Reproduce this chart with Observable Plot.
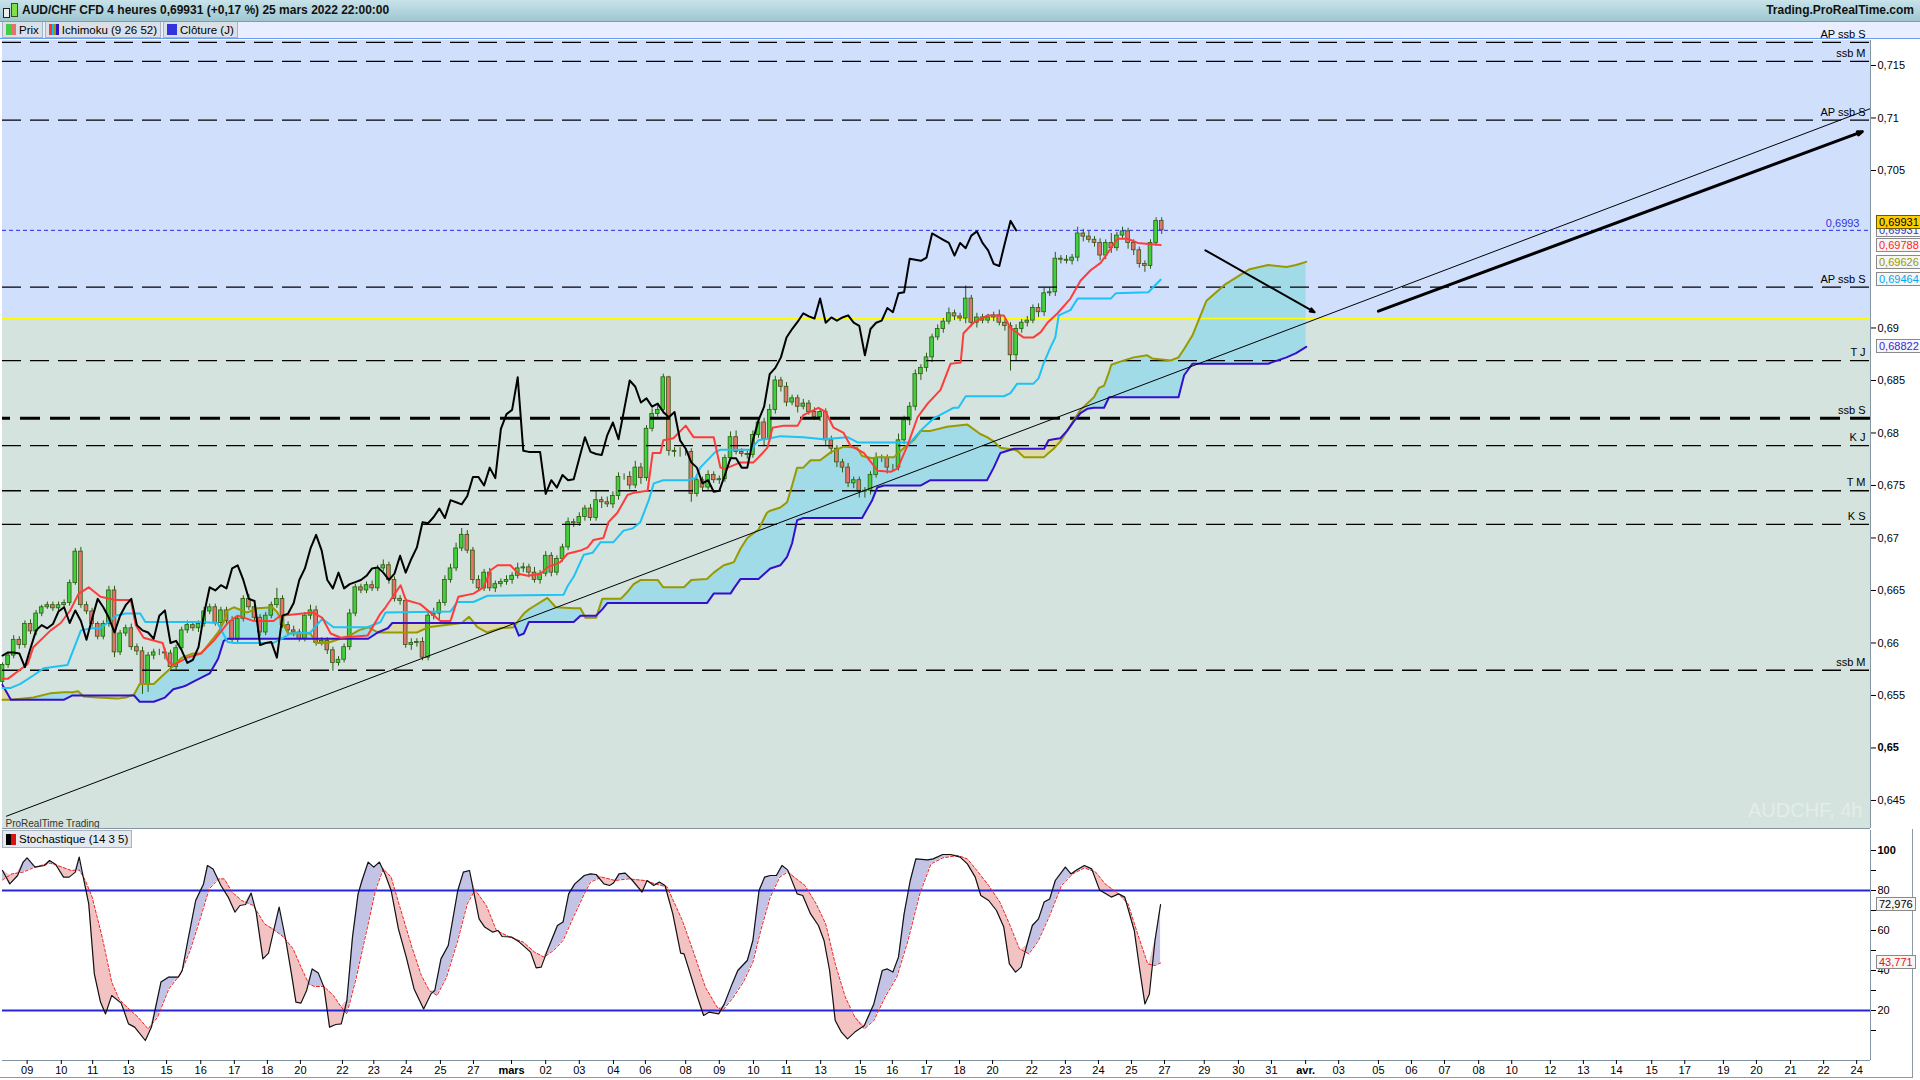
<!DOCTYPE html>
<html>
<head>
<meta charset="utf-8">
<script src="https://cdn.jsdelivr.net/npm/d3@7"></script>
<script src="https://cdn.jsdelivr.net/npm/@observablehq/plot@0.6"></script>
<style>
  body { margin: 0; width: 1920px; height: 1080px; overflow: hidden; background: #fff; position: relative;
         font-family: "Liberation Sans", Arial, sans-serif; color: #000; }
  #head { position: absolute; left: 0; top: 0; width: 1920px; height: 21px; line-height: 21px;
          background: linear-gradient(#c8e3ea, #9fc6d0); border-bottom: 1px solid #7d9ea8;
          font-size: 12px; font-weight: bold; color: #111; }
  #head .title { position: absolute; left: 22px; }
  #head .site { position: absolute; right: 6px; }
  #head .ico { position: absolute; top: 3px; width: 5px; border: 1px solid #222; }
  #legend { position: absolute; left: 0; top: 22px; width: 1920px; height: 17px; background: #e8eeff;
            border-bottom: 1px solid #6d9cf0; display: flex; gap: 2px; padding-left: 2px; box-sizing: border-box; }
  .btn { height: 16px; line-height: 16px; font-size: 11.5px; background: #d9e0e8; border: 1px solid #a9b4bf;
         border-top: none; padding: 0 3px; display: flex; align-items: center; gap: 3px; box-sizing: border-box; }
  .sw { display: inline-block; height: 11px; }
  #main { position: absolute; left: 0; top: 40px; }
  #stoch { position: absolute; left: 0; top: 830px; }
  #stochLeg { position: absolute; left: 2px; top: 830px; height: 16px; line-height: 16px; font-size: 11.5px;
              background: #e4e9ef; border: 1px solid #a9b4bf; padding: 0 3px; display: flex; gap: 3px; align-items: center; }
  #paneBorder { position: absolute; left: 0; top: 829px; width: 1912px; height: 248px; border-right: 1px solid #8b9aa6;
                border-bottom: 1px solid #8b9aa6; pointer-events: none; }
  .vbox { position: absolute; left: 1876px; height: 12px; line-height: 12px; font-size: 11px; padding: 0 2px;
          border: 1px solid #8a8a8a; background: #f6f6f6; white-space: nowrap; }
</style>
</head>
<body>
<div id="head">
  <span class="ico" style="left:3px;height:8px;top:8px;background:#eee"></span>
  <span class="ico" style="left:11px;height:12px;background:#7fe04a;border-color:#2d5a12"></span>
  <span class="title">AUD/CHF CFD 4 heures 0,69931 (+0,17 %) 25 mars 2022 22:00:00</span>
  <span class="site">Trading.ProRealTime.com</span>
</div>
<div id="legend">
  <div class="btn"><span class="sw" style="width:5px;background:#44cc44"></span><span class="sw" style="width:5px;margin-left:-3px;background:#e5726b"></span>Prix</div>
  <div class="btn"><span class="sw" style="width:10px;background:linear-gradient(90deg,#ff3333 25%,#00bfff 25% 50%,#999900 50% 75%,#3311cc 75%)"></span>Ichimoku (9 26 52)</div>
  <div class="btn"><span class="sw" style="width:10px;background:#3333dd"></span>Clôture (J)</div>
</div>
<div id="main"></div>
<div id="paneBorder"></div>
<div id="stoch"></div>
<div id="stochLeg"><span class="sw" style="width:5px;background:#000"></span><span class="sw" style="width:5px;margin-left:-3px;background:#dd1111"></span>Stochastique (14 3 5)</div>

<script>
// ---- data (x = 4h bar index, 0 = first visible bar) ----

// closes of each 4h bar
const closes = [
  0.6579,0.6588,0.6603,0.6598,0.6618,0.6611,0.6628,0.6634,0.6636,0.6633,
  0.6636,0.6638,0.6657,0.6687,0.6636,0.6630,0.6618,0.6606,0.6618,0.6650,
  0.6591,0.6609,0.6614,0.6596,0.6592,0.6561,0.6588,0.6591,0.6591,0.6590,
  0.6577,0.6595,0.6612,0.6617,0.6614,0.6618,0.6630,0.6634,0.6619,0.6631,
  0.6621,0.6603,0.6623,0.6642,0.6634,0.6624,0.6610,0.6626,0.6636,0.6642,
  0.6617,0.6612,0.6610,0.6604,0.6626,0.6631,0.6600,0.6602,0.6593,0.6581,
  0.6584,0.6596,0.6628,0.6653,0.6650,0.6655,0.6652,0.6671,0.6674,0.6660,
  0.6642,0.6640,0.6598,0.6600,0.6601,0.6586,0.6626,0.6628,0.6638,0.6660,
  0.6671,0.6690,0.6703,0.6688,0.6660,0.6652,0.6667,0.6652,0.6656,0.6658,
  0.6660,0.6664,0.6671,0.6672,0.6667,0.6660,0.6666,0.6683,0.6667,0.6680,
  0.6691,0.6715,0.6714,0.6720,0.6728,0.6719,0.6736,0.6734,0.6732,0.6740,
  0.6758,0.6758,0.6750,0.6767,0.6757,0.6804,0.6818,0.6822,0.6853,0.6783,
  0.6782,0.6782,0.6782,0.6742,0.6755,0.6748,0.6760,0.6755,0.6756,0.6776,
  0.6796,0.6782,0.6780,0.6779,0.6798,0.6810,0.6794,0.6822,0.6850,0.6844,
  0.6829,0.6833,0.6825,0.6828,0.6820,0.6815,0.6820,0.6793,0.6785,0.6772,
  0.6767,0.6752,0.6755,0.6744,0.6745,0.6760,0.6776,0.6776,0.6767,0.6767,
  0.6793,0.6812,0.6825,0.6856,0.6862,0.6872,0.6891,0.6899,0.6906,0.6914,
  0.6911,0.6909,0.6928,0.6905,0.6910,0.6907,0.6910,0.6912,0.6905,0.6902,
  0.6874,0.6899,0.6905,0.6907,0.6919,0.6915,0.6933,0.6934,0.6966,0.6965,
  0.6964,0.6967,0.6990,0.6987,0.6984,0.6981,0.6969,0.6981,0.6976,0.6988,
  0.6992,0.6981,0.6974,0.6961,0.6959,0.6981,0.7002,0.6993
];
const firstOpen = 0.6563;
// wick length above / below the body, in pips
const wickUp = [
  2,3,4,3,3,4,3,2,3,3, 3,3,3,3,4,3,3,2,3,4, 4,3,3,4,3,4,3,3,3,4, 3,3,3,4,3,3,4,3,3,3,
  3,4,3,3,4,3,3,3,3,10, 3,3,4,3,3,5,4,3,3,3, 3,3,4,3,3,3,4,3,5,3, 3,3,3,4,3,4,3,5,3,4,
  4,5,6,4,3,4,3,4,3,3, 4,3,5,4,3,5,3,4,3,3, 3,4,3,4,3,4,8,3,5,4, 4,3,5,6,4,3,5,6,3,1,
  3,4,3,3,3,3,4,3,3,3, 5,6,3,3,4,3,4,5,4,3, 4,3,3,4,3,4,3,3,4,3, 3,4,3,3,3,3,5,3,3,3,
  6,4,4,4,3,4,3,4,3,5, 3,3,12,3,4,3,3,3,5,3, 3,4,3,4,3,4,5,4,6,3, 4,3,6,4,5,3,4,3,9,3,
  4,3,3,3,3,3,3,3
];
const wickDown = [
  5,3,3,4,3,3,4,3,2,3, 4,3,3,2,3,3,3,3,3,3, 5,3,3,3,4,10,8,4,3,6, 4,3,3,3,3,4,3,3,3,4,
  3,3,3,3,3,3,4,3,3,3, 3,3,4,3,3,4,3,3,4,8, 3,3,3,3,3,3,3,3,3,4, 3,4,3,5,4,3,3,4,6,3,
  3,3,3,3,4,3,3,3,4,3, 3,4,3,4,5,3,4,3,4,3, 3,3,4,3,4,3,3,6,3,4, 4,3,4,3,6,3,3,3,4,5,
  5,5,4,8,3,4,3,3,4,3, 3,3,3,4,3,3,6,3,4,5, 4,3,6,3,3,3,4,6,5,5, 5,4,5,6,6,4,3,4,6,3,
  3,4,5,4,6,4,5,3,4,3, 4,3,5,4,5,3,3,4,3,5, 15,5,4,4,3,5,4,3,4,4, 3,4,4,5,3,4,5,4,5,3,
  4,6,5,4,6,3,3,4
];
const chikouShift = 26;

// Tenkan (9) and Kijun (26): [bar, price]
const tenkan = [
  [0,0.6566],[1,0.6566],[4.5,0.6580],[5.5,0.6596],[8.6,0.6612],[10.4,0.6619],[12.1,0.6631],[13.6,0.6647],
  [15.4,0.6653],[17.5,0.6644],[20.2,0.6641],[22.9,0.6641],[23.8,0.6617],[25.2,0.6605],[28.6,0.6600],[29.5,0.6583],
  [30.5,0.6579],[33,0.6586],[35.4,0.6590],[37.7,0.6602],[40.2,0.6619],[42,0.6626],[44.8,0.6621],[48.4,0.6621],
  [49.6,0.6626],[55.5,0.6629],[57.1,0.6624],[58.6,0.6609],[60.4,0.6605],[65.2,0.6607],[67.5,0.6628],[68.4,0.6634],
  [71.1,0.6655],[72,0.6641],[74.6,0.6637],[78.2,0.6621],[80,0.6621],[81.4,0.6644],[84.1,0.6647],[85.9,0.6653],
  [87.1,0.6669],[88.4,0.6674],[90.7,0.6674],[92.1,0.6666],[93.8,0.6664],[96.1,0.6666],[97.3,0.6672],[99.6,0.6677],
  [100.9,0.6685],[103.2,0.6688],[104.5,0.6691],[105.5,0.6698],[107.3,0.6700],[108.2,0.6715],[109.8,0.6724],
  [111.6,0.6741],[112.7,0.6743],[115.2,0.6745],[116.1,0.6781],[117.5,0.6781],[118,0.6793],[119.8,0.6795],
  [122,0.6807],[123.4,0.6796],[127,0.6796],[128.2,0.6767],[129.1,0.6766],[131.8,0.6772],[134.1,0.6772],
  [135.4,0.6779],[136.6,0.6786],[137.5,0.6805],[139.5,0.6807],[142,0.6807],[143,0.6817],[145.7,0.6824],
  [147,0.6820],[148.4,0.6805],[150.2,0.6800],[151.4,0.6788],[153.8,0.6781],[156.3,0.6764],[158.6,0.6763],
  [159.8,0.6766],[161.6,0.6788],[163.4,0.6815],[165.2,0.6828],[167.5,0.6841],[169.3,0.6866],[171.1,0.6867],
  [171.6,0.6895],[173.4,0.6905],[175.9,0.6912],[178.8,0.6912],[180,0.6900],[182.3,0.6891],[184.1,0.6891],
  [185.4,0.6896],[186.6,0.6905],[188.4,0.6914],[190.7,0.6928],[192.5,0.6945],[194.3,0.6955],[196.1,0.6962],
  [197.3,0.6971],[199.1,0.6985],[200.9,0.6985],[202.7,0.6981],[206.8,0.6979]
];
const kijun = [
  [0,0.6557],[1.4,0.6557],[3.2,0.6561],[5.5,0.6569],[7.4,0.6576],[11.6,0.6579],[14,0.6612],[16,0.6614],
  [17.5,0.6614],[18.7,0.6619],[20.2,0.6626],[22,0.6628],[24.6,0.6628],[25.5,0.6620],[35.4,0.6620],[38.4,0.6619],
  [40.2,0.6601],[41.3,0.6600],[48.4,0.6600],[50.2,0.6605],[51.4,0.6609],[55,0.6610],[57.1,0.6623],[59.1,0.6615],
  [65.2,0.6615],[67.5,0.6620],[68.4,0.6629],[80,0.6630],[81.2,0.6639],[84.1,0.6639],[86.6,0.6645],[100.2,0.6646],
  [100.9,0.6654],[102,0.6663],[103.8,0.6684],[105.4,0.6686],[106.8,0.6696],[109.1,0.6696],[110.9,0.6707],
  [112.5,0.6709],[113.9,0.6715],[115.4,0.6736],[116.3,0.6752],[118,0.6755],[122.3,0.6755],[123.75,0.6757],
  [124.6,0.6767],[127.3,0.6782],[128.2,0.6784],[133.6,0.6784],[135,0.6793],[137.1,0.6795],[138.9,0.6797],
  [143,0.6796],[146.6,0.6794],[150.9,0.6796],[152.7,0.6791],[162.1,0.6791],[163.9,0.6802],[166.3,0.6814],
  [169.8,0.6824],[170.7,0.6824],[172,0.6835],[178.8,0.6835],[180,0.6838],[181.2,0.6847],[184.1,0.6847],
  [185,0.6852],[185.9,0.6866],[187.1,0.6881],[188,0.6891],[188.6,0.6912],[190.7,0.6917],[192,0.6928],
  [197.9,0.6928],[198.8,0.6933],[204.6,0.6934],[206.8,0.6946]
];
// cloud: [bar, senkou span A, senkou span B]
const cloud = [
  [0,0.6546,0.6560],[1.5,0.6546,0.6546],[5.5,0.6548,0.6546],[8.5,0.6552,0.6546],[11,0.6553,0.6546],
  [12.5,0.6553,0.6550],[13.5,0.6554,0.6550],[14.5,0.6549,0.6550],[17,0.6548,0.6550],[20.5,0.6547,0.6550],
  [22,0.6548,0.6550],[23.5,0.6551,0.6550],[24.5,0.6561,0.6544],[27,0.6561,0.6544],[29,0.6571,0.6548],
  [30.5,0.6578,0.6556],[32,0.6586,0.6558],[33,0.6588,0.6560],[34,0.6590,0.6563],[35.5,0.6590,0.6567],
  [37,0.6600,0.6571],[38.5,0.6610,0.6585],[39.5,0.6620,0.6602],[40.2,0.6631,0.6604],[41.3,0.6634,0.6604],
  [43.7,0.6629,0.6604],[45.5,0.6633,0.6604],[48.2,0.6634,0.6604],[49.1,0.6629,0.6604],[51,0.6609,0.6604],
  [55,0.6609,0.6604],[56,0.6600,0.6604],[58,0.6600,0.6604],[62,0.6607,0.6604],[63.6,0.6612,0.6604],
  [65.3,0.6615,0.6604],[67,0.6610,0.6610],[68.8,0.6610,0.6614],[69.6,0.6610,0.6619],[74,0.6610,0.6619],
  [76,0.6615,0.6619],[82,0.6619,0.6619],[83.3,0.6625,0.6619],[84.8,0.6615,0.6619],[86.5,0.6610,0.6619],
  [89,0.6614,0.6619],[91.3,0.6615,0.6619],[92.2,0.6622,0.6607],[93.1,0.6628,0.6609],[94,0.6632,0.6620],
  [94.6,0.6634,0.6620],[97.3,0.6643,0.6620],[98.8,0.6634,0.6620],[102,0.6633,0.6620],[103.2,0.6633,0.6626],
  [104.1,0.6624,0.6626],[106,0.6624,0.6626],[107.1,0.6642,0.6632],[108,0.6642,0.6638],[110.4,0.6642,0.6638],
  [111.5,0.6648,0.6638],[112.7,0.6656,0.6638],[114,0.6660,0.6638],[117,0.6660,0.6638],[118,0.6653,0.6638],
  [121.7,0.6653,0.6638],[123,0.6660,0.6638],[125.8,0.6661,0.6638],[127,0.6667,0.6647],[128.8,0.6674,0.6647],
  [130,0.6676,0.6647],[130.6,0.6677,0.6652],[131.8,0.6690,0.6661],[133,0.6700,0.6661],[135,0.6708,0.6661],
  [136.5,0.6724,0.6668],[137.1,0.6726,0.6671],[138.9,0.6729,0.6674],[140.1,0.6734,0.6682],[141,0.6750,0.6695],
  [141.9,0.6767,0.6717],[143,0.6767,0.6719],[144.3,0.6774,0.6719],[146,0.6774,0.6719],[148,0.6782,0.6719],
  [150.2,0.6787,0.6719],[152.6,0.6786,0.6719],[153.5,0.6778,0.6719],[155.3,0.6776,0.6736],[156.2,0.6777,0.6748],
  [157.4,0.6777,0.6750],[159.2,0.6777,0.6750],[161,0.6786,0.6750],[162.7,0.6793,0.6750],[164,0.6802,0.6750],
  [165.7,0.6802,0.6755],[168.7,0.6806,0.6755],[172.3,0.6808,0.6755],[174.6,0.6799,0.6755],[175.8,0.6796,0.6755],
  [177,0.6792,0.6767],[178.2,0.6786,0.6781],[180.6,0.6784,0.6785],[181.2,0.6783,0.6785],[182.4,0.6777,0.6785],
  [186,0.6777,0.6785],[186.8,0.6781,0.6793],[187.7,0.6785,0.6794],[188.9,0.6792,0.6795],[190.1,0.6802,0.6802],
  [191.3,0.6812,0.6811],[192.5,0.6822,0.6819],[193.7,0.6828,0.6823],[194.9,0.6834,0.6824],[195.8,0.6843,0.6824],
  [196.7,0.6845,0.6824],[197.6,0.6858,0.6834],[198,0.6865,0.6834],[199.6,0.6868,0.6834],[202,0.6872,0.6834],
  [204.4,0.6874,0.6834],[205.3,0.6871,0.6834],[208.6,0.6869,0.6834],[210,0.6872,0.6834],[211,0.6880,0.6855],
  [212.5,0.6893,0.6866],[215,0.6926,0.6866],[218.2,0.6941,0.6866],[222.7,0.6956,0.6866],[226,0.6960,0.6866],
  [229.3,0.6958,0.6872],[231,0.6960,0.6876],[232.8,0.6963,0.6882]
];

// horizontal levels drawn on the chart
const levelLabels = ["AP ssb S", "ssb M", "AP ssb S", "AP ssb S", "T J", "K J", "T M", "K S", "ssb M"];
const levelValues = [0.7172, 0.7154, 0.7098, 0.6939, 0.6869, 0.6788, 0.6745, 0.6713, 0.6574];
const strongLevel = {label: "ssb S", value: 0.6814};
const lastPrice = 0.6993;
const zoneSplit = 0.6909;

// drawings
const trendLine = [[0.7, 0.6435], [333.6, 0.7109]];
const arrows = [
  {x1: 214.8, y1: 0.6974, x2: 234.3, y2: 0.6915, w: 2},
  {x1: 245.7, y1: 0.6916, x2: 332.1, y2: 0.7087, w: 3}
];

// right-hand value tags
const tags = [
  {v: 0.69931, text: "0,69931", color: "#3333dd", bg: "#f6f6f6", shift: -7},
  {v: 0.69931, text: "0,69931", color: "#000", bg: "#ffcc00", shift: -15},
  {v: 0.69788, text: "0,69788", color: "#ff2222", bg: "#f6f6f6", shift: -7},
  {v: 0.69626, text: "0,69626", color: "#999900", bg: "#f6f6f6", shift: -7},
  {v: 0.69464, text: "0,69464", color: "#00aaee", bg: "#f6f6f6", shift: -7},
  {v: 0.68822, text: "0,68822", color: "#3a1ee0", bg: "#f6f6f6", shift: -7}
];

// stochastic %K and %D: [bar, value]
const stochK = [
  [0,90],[1.3,83.3],[2.7,87.5],[3.7,94.2],[4.4,96.3],[5.8,91.7],[7.5,92.5],[8.4,95],[9.5,93],[10.9,86.7],
  [11.9,86.7],[13,89.2],[13.7,96.7],[14.3,88.3],[15.4,73.3],[16.4,38.3],[17.5,24.2],[18.4,18.3],[19.5,27.5],
  [21.2,23.7],[22.5,13.3],[23.6,11.7],[25.5,5],[26.6,11.7],[28.3,34.2],[29.7,36.7],[31.4,36.7],[32.1,40],
  [33.1,55],[34.5,75],[35.9,83.3],[36.6,92.5],[37.6,90.8],[39,82.5],[40.3,76.7],[41.5,69.2],[42.4,72.5],
  [43.4,73],[44.4,78.7],[45.3,69.2],[46.5,45.8],[47.5,48.7],[48.5,60.8],[49.4,71.7],[50.6,55],[51.6,38.3],
  [52.4,24.2],[53.3,23.7],[54.3,30],[55.3,40.8],[56.4,38.7],[57.4,31.7],[58.4,11.7],[59.5,13],[60.5,13.3],
  [61.5,25],[62.5,56.7],[63.5,78.3],[64.2,85],[65.3,94.2],[66.3,91.7],[67.3,94.2],[68.3,88.3],[69.4,80],
  [70.7,60.8],[72.1,46.7],[73.5,30.8],[75.2,20.8],[76.5,28.3],[77.2,30],[78.3,45.8],[79.6,52.5],[81.3,80],
  [82.3,89.2],[83.4,90],[85.1,65.8],[86.1,61.7],[87.5,59.2],[88.5,60],[89.2,57],[90.9,56.7],[92.3,54.2],
  [94.3,49.2],[95.3,41.3],[96.2,41.7],[97.4,50.8],[99.1,62.5],[100.1,64.2],[101.1,78.3],[102.2,83.3],
  [103.9,87.5],[105,88.3],[106,88],[107.4,83.3],[108.4,82.5],[109.1,83.7],[110.1,88.3],[111.2,88.7],
  [112.5,85],[114.2,79.2],[115.1,85],[116.3,82.5],[117.3,84.2],[118.3,82.5],[119.7,68.3],[121.1,48.7],
  [121.7,48.3],[123.1,35.8],[124.1,26.7],[125.2,17.5],[126.2,19.2],[127.9,18.3],[128.9,23.3],[130.3,33.3],
  [131.3,40],[133,45],[134,55],[135.1,80],[136.1,86.7],[137.1,87.5],[138.2,87.5],[139.2,92.5],[140.2,90.3],
  [141.9,78.3],[142.9,77.5],[144.3,68.3],[145.7,62.5],[146.7,55],[147.7,40],[148.7,15],[149.8,9.2],
  [150.9,5.8],[152.2,9.2],[153.9,12.5],[155.6,23.3],[157.1,40],[158,40.8],[159,39.2],[160,46.7],[161,68.3],
  [162.1,85],[163.1,95.8],[165.2,95.3],[166.2,95.8],[167.9,98],[169.3,98],[171,96.7],[172.3,93.3],
  [173.7,86.7],[174.7,77.5],[176.1,75],[177.5,70],[178.8,61.7],[179.8,43.3],[180.9,39.2],[181.9,41.7],
  [182.9,52.5],[183.9,62.5],[185,65.8],[186,74.2],[187,75.8],[188,85],[189.8,91.7],[190.8,88.3],[191.8,90.3],
  [193.2,92.5],[194.5,90.8],[195.9,80.3],[198,76.7],[199.3,78.3],[200.4,76.7],[202.1,60],[203.1,40],
  [204,23.3],[204.8,28.3],[205.8,55],[206.8,73]
];
const stochD = [
  [0,85.3],[1.7,88.3],[3.7,89.2],[5.8,91.7],[8.5,93.7],[10.6,91.7],[12.3,90],[13.7,90.3],[14.8,85],[16,76.7],
  [17.8,56.7],[19.5,34.2],[20.8,25.8],[22.2,21.7],[24.2,16.7],[26,10.8],[27.7,16.7],[29.7,30.8],[31.8,38.3],
  [33.5,50],[35.2,65],[36.9,80.8],[38.6,85.8],[39.6,85.8],[41,79.2],[42.7,75],[44.8,72.5],[46.8,63.3],
  [48.5,60.3],[50.2,56.7],[51.9,50.8],[53.3,41.7],[54.7,33.3],[55.7,32],[57.4,32],[59.1,27.5],[60.5,21.7],
  [61.5,18.3],[63.2,36.7],[64.9,58.3],[66.6,80],[68,90.8],[69.4,86.7],[70.7,74.2],[73.1,51.7],[74.8,37.5],
  [76.2,30],[77.6,27.5],[79.3,36.7],[81.3,55],[83,73.3],[84.4,80.3],[86.4,72.5],[88.2,60],[90.6,56.7],
  [93,54.2],[95,49.2],[96.7,46.7],[98.4,50],[100.1,55],[101.8,65.8],[103.9,78.3],[105,84.2],[107,86.7],
  [109.4,85],[111.8,85.8],[114.6,85],[116.6,83.3],[118.7,81.7],[121.4,65],[123.5,48.3],[125.5,31.7],
  [127.6,21.7],[128.6,20],[130.3,25.8],[132.3,34.2],[134,44.2],[135.4,60],[137.1,76.7],[138.8,86.7],
  [140.2,89.2],[143.3,82.5],[145.3,73.3],[147,63.3],[148.7,43.3],[150.5,26.7],[152.2,16.7],[153.9,10.8],
  [155.6,15],[157.6,26.7],[159.7,36.7],[161.7,55],[163.8,78.3],[165.8,93.3],[167.9,96.3],[170.6,97.5],
  [172.3,95.8],[174,90],[176.1,82.5],[178.1,74.2],[179.8,63.3],[181.6,50.8],[183.3,48.3],[185,55],[187,67.5],
  [189.1,82.5],[191.1,88.3],[193.2,91.3],[195.2,89.2],[196.9,83.3],[199.3,78.3],[201,73.3],[202.7,58.3],
  [204.5,43.3],[205.8,42.5],[206.8,43.8]
];
const stochLevels = [80, 20];
const stochTicks = [100, 80, 60, 40, 20];
const stochMinor = [90, 70, 50, 30, 10];
const stochTags = [
  {v: 72.976, text: "72,976", color: "#000"},
  {v: 43.771, text: "43,771", color: "#ee1111"}
];

// date axis
const tickBars = [4.4,10.5,16.1,22.5,29.3,35.4,41.4,47.3,53.2,60.7,66.3,72.1,78.2,84.1,90.9,97,103,109.1,114.8,
  122,128,134.1,140,146.1,153.2,158.9,165,170.9,176.8,183.8,189.8,195.7,201.6,207.5,214.6,220.7,226.6,232.7,
  238.6,245.7,251.6,257.5,263.6,269.5,276.4,282.3,288.2,294.5,300.4,307.3,313.2,319.3,325.2,331.1];
const tickLabels = ["09","10","11","13","15","16","17","18","20","22","23","24","25","27","mars","02","03","04",
  "06","08","09","10","11","13","15","16","17","18","20","22","23","24","25","27","29","30","31","avr.",
  "03","05","06","07","08","10","12","13","14","15","17","19","20","21","22","24"];
const priceTicks = [0.645,0.65,0.655,0.66,0.665,0.67,0.675,0.68,0.685,0.69,0.705,0.71,0.715];

// ---- chart ----
const X0 = 0, X1 = 333.57;            // visible bar range
const Y0 = 0.64233, Y1 = 0.71738;     // visible price range
const fr = d3.formatLocale({decimal: ",", thousands: " ", grouping: [3], currency: ["", ""]});
const priceFmt = fr.format(".3~f");
const font = "Liberation Sans, Arial, sans-serif";

const candles = closes.map((c, i) => {
  const o = i === 0 ? firstOpen : closes[i - 1];
  return {i, o, c, h: Math.max(o, c) + wickUp[i] / 10000, l: Math.min(o, c) - wickDown[i] / 10000};
});
const chikou = closes.map((c, i) => ({b: i - chikouShift, c})).filter(d => d.b >= 0);
const levels = levelLabels.map((label, i) => ({label, value: levelValues[i]}));
const wick = "#2d5a12";

const main = Plot.plot({
  width: 1920, height: 788,
  marginLeft: 2, marginRight: 50, marginTop: 0, marginBottom: 0,
  x: {domain: [X0, X1], axis: null},
  y: {domain: [Y0, Y1]},
  style: {background: "transparent", fontFamily: font, fontSize: "11px", overflow: "visible"},
  marks: [
    Plot.rect([0], {x1: X0, x2: X1, y1: zoneSplit, y2: Y1, fill: "#cfdffc"}),
    Plot.rect([0], {x1: X0, x2: X1, y1: Y0, y2: zoneSplit, fill: "#d4e3dd"}),
    Plot.areaY(cloud, {x: d => d[0], y1: d => d[2], y2: d => Math.max(d[1], d[2]), fill: "#a2dbe8"}),
    Plot.areaY(cloud, {x: d => d[0], y1: d => d[1], y2: d => Math.max(d[1], d[2]), fill: "#dedaa6"}),
    Plot.ruleY([zoneSplit], {stroke: "#ffff00", strokeWidth: 1.5}),
    Plot.ruleX(candles, {x: "i", y1: "l", y2: "h", stroke: wick, strokeWidth: 1}),
    Plot.rect(candles, {
      x1: d => d.i - 0.33, x2: d => d.i + 0.33, y1: "o", y2: "c",
      fill: d => d.c >= d.o ? "#41cf3c" : "#e5726b", stroke: wick, strokeWidth: 0.8
    }),
    Plot.ruleY(levels, {y: "value", stroke: "#000", strokeWidth: 1.3, strokeDasharray: "19,9"}),
    Plot.ruleY([strongLevel], {y: "value", stroke: "#000", strokeWidth: 3, strokeDasharray: "20,10", strokeDashoffset: 12}),
    Plot.ruleY([lastPrice], {stroke: "#2a2ae8", strokeWidth: 1, strokeDasharray: "4,3"}),
    Plot.line(cloud, {x: d => d[0], y: d => d[1], stroke: "#999900", strokeWidth: 2}),
    Plot.line(cloud, {x: d => d[0], y: d => d[2], stroke: "#3311cc", strokeWidth: 2}),
    Plot.line(kijun, {x: d => d[0], y: d => d[1], stroke: "#1ec2f5", strokeWidth: 2}),
    Plot.line(tenkan, {x: d => d[0], y: d => d[1], stroke: "#ff3b3b", strokeWidth: 2}),
    Plot.line(chikou, {x: "b", y: "c", stroke: "#000", strokeWidth: 2}),
    Plot.line(trendLine, {x: d => d[0], y: d => d[1], stroke: "#000", strokeWidth: 1}),
    Plot.arrow(arrows, {x1: "x1", y1: "y1", x2: "x2", y2: "y2", stroke: "#000",
      strokeWidth: d => d.w, headLength: 7.5, headAngle: 40}),
    Plot.text(levels.concat([strongLevel]), {x: X1, y: "value", text: "label", textAnchor: "end",
      dx: -5, dy: -8, fontSize: 11, fill: "#000"}),
    Plot.text([lastPrice], {x: X1, y: d => d, text: () => "0,6993", textAnchor: "end",
      dx: -11, dy: -7, fontSize: 11, fill: "#3333dd"}),
    Plot.text(["ProRealTime Trading"], {frameAnchor: "bottom-left", text: d => d, dx: 3, dy: -2,
      lineAnchor: "bottom", fontSize: 10, fill: "#333"}),
    Plot.text(["AUDCHF, 4h"], {frameAnchor: "bottom-right", text: d => d, dx: -8, dy: -12,
      lineAnchor: "bottom", fontSize: 20, fill: "#e3ede9"}),
    Plot.ruleX([X1], {stroke: "#8596a3"}),
    Plot.ruleY([Y0], {stroke: "#8596a3"}),
    Plot.axisY(priceTicks, {anchor: "right", tickFormat: priceFmt, tickSize: 5, tickPadding: 2,
      fontSize: 11, label: null})
  ]
});
document.getElementById("main").append(main);
d3.select(main).selectAll("text").filter(function () { return this.textContent === "0,65"; })
  .attr("font-weight", "bold");

// value tags next to the price axis
const ys = main.scale("y");
for (const t of tags) {
  const div = document.createElement("div");
  div.className = "vbox";
  div.textContent = t.text;
  div.style.top = (40 + ys.apply(t.v) + t.shift) + "px";
  div.style.color = t.color;
  div.style.background = t.bg;
  if (t.bg !== "#f6f6f6") div.style.borderColor = "#6a5a00";
  document.body.append(div);
}

// stochastic panel
const kScale = d3.scaleLinear(stochK.map(d => d[0]), stochK.map(d => d[1]));
const dScale = d3.scaleLinear(stochD.map(d => d[0]), stochD.map(d => d[1]));
const lastBar = Math.min(stochK[stochK.length - 1][0], stochD[stochD.length - 1][0]);
const fillRows = d3.sort(new Set(stochK.map(d => d[0]).concat(stochD.map(d => d[0]))))
  .filter(b => b <= lastBar)
  .map(b => ({b, k: kScale(b), d: dScale(b)}));
const labelOf = new Map(tickBars.map((b, i) => [b, tickLabels[i]]));

const stoch = Plot.plot({
  width: 1920, height: 250,
  marginLeft: 2, marginRight: 50, marginTop: 0, marginBottom: 20,
  x: {domain: [X0, X1]},
  y: {domain: [-5, 110]},
  style: {background: "transparent", fontFamily: font, fontSize: "11px", overflow: "visible"},
  marks: [
    Plot.areaY(fillRows, {x: "b", y1: "d", y2: r => Math.max(r.k, r.d), fill: "#c3c3e6"}),
    Plot.areaY(fillRows, {x: "b", y1: "k", y2: r => Math.max(r.k, r.d), fill: "#f3c3c3"}),
    Plot.ruleY(stochLevels, {stroke: "#2424dd", strokeWidth: 2}),
    Plot.line(stochD, {x: d => d[0], y: d => d[1], stroke: "#ee2222", strokeWidth: 1, strokeDasharray: "3,2"}),
    Plot.line(stochK, {x: d => d[0], y: d => d[1], stroke: "#111", strokeWidth: 1.2}),
    Plot.ruleX([X1], {y1: -5, y2: 110, stroke: "#8596a3"}),
    Plot.ruleY([-5], {stroke: "#8596a3"}),
    Plot.axisY(stochTicks, {anchor: "right", tickSize: 5, tickPadding: 2, fontSize: 11, label: null}),
    Plot.axisY(stochMinor, {anchor: "right", tickSize: 5, tickFormat: () => "", label: null}),
    Plot.axisX(tickBars, {anchor: "bottom", tickSize: 4, tickPadding: 2, fontSize: 11, label: null,
      tickFormat: b => labelOf.get(b)})
  ]
});
document.getElementById("stoch").append(stoch);
d3.select(stoch).selectAll("text")
  .filter(function () { return ["100", "mars", "avr."].includes(this.textContent); })
  .attr("font-weight", "bold");

const sy = stoch.scale("y");
for (const t of stochTags) {
  const div = document.createElement("div");
  div.className = "vbox";
  div.textContent = t.text;
  div.style.top = (830 + sy.apply(t.v) - 7) + "px";
  div.style.color = t.color;
  document.body.append(div);
}
</script>
</body>
</html>
